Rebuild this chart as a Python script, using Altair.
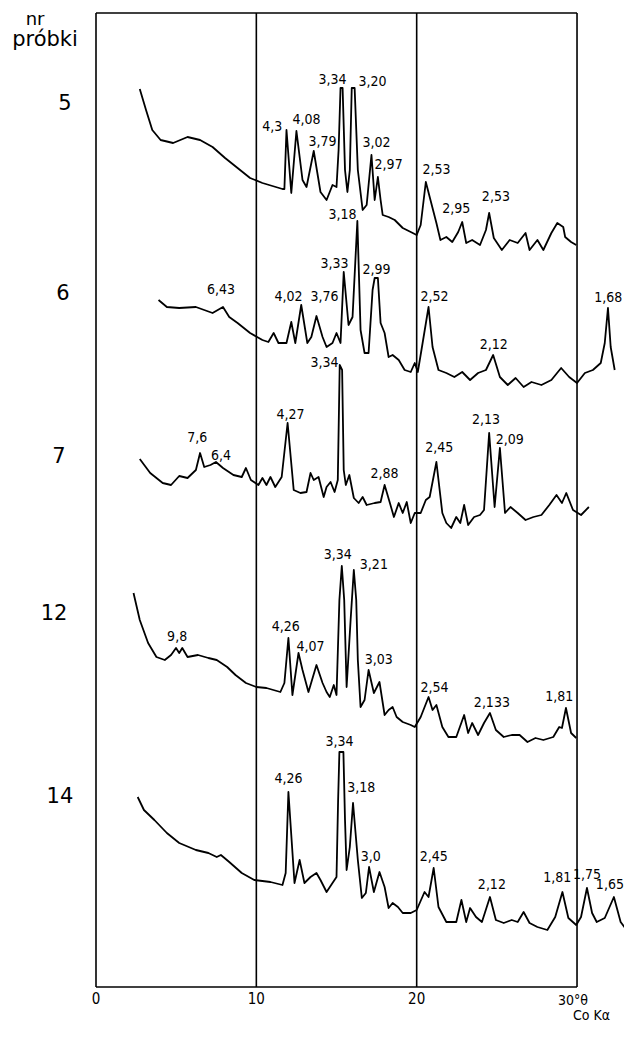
import altair as alt
import pandas as pd

# ---- data: 2-theta (deg, Co K-alpha) and trace height (arbitrary units, offset per sample) ----
samples = ["5", "6", "7", "12", "14"]

t5 = [2.73, 3.12, 3.51, 4.03, 4.81, 5.71, 6.49, 7.27, 8.05, 8.83, 9.61, 10.38, 11.63, 11.75, 11.88, 12.18, 12.5,
      12.88, 13.13, 13.58, 14.0, 14.38, 14.75, 15.0, 15.13, 15.25, 15.38, 15.53, 15.68, 15.83, 15.95, 16.13, 16.33,
      16.63, 16.88, 17.18, 17.38, 17.58, 17.75, 17.88, 18.25, 18.63, 19.13, 19.63, 20.0, 20.25, 20.57, 20.86, 21.23,
      21.48, 21.85, 22.22, 22.59, 22.84, 23.09, 23.46, 23.95, 24.32, 24.52, 24.81, 25.31, 25.8, 26.3, 26.79, 27.04,
      27.53, 27.9, 28.4, 28.77, 29.14, 29.26, 29.63, 29.95]
v5 = [898, 877, 857, 847, 844, 850, 847, 840, 829, 819, 809, 804, 798, 798, 857, 794, 856, 807, 800, 836, 795, 787,
      802, 800, 837, 899, 899, 817, 795, 817, 899, 899, 817, 777, 782, 832, 787, 810, 787, 772, 770, 767, 759, 755,
      752, 762, 805, 787, 764, 747, 750, 745, 755, 765, 744, 747, 742, 757, 774, 749, 737, 747, 744, 754, 737, 747,
      737, 754, 764, 760, 750, 745, 742]

t6 = [3.9, 4.42, 5.19, 6.23, 7.27, 7.92, 8.31, 8.83, 9.61, 10.38, 10.75, 11.08, 11.38, 11.88, 12.18, 12.43, 12.8,
      13.18, 13.43, 13.75, 14.13, 14.38, 14.75, 15.0, 15.25, 15.45, 15.75, 16.0, 16.3, 16.5, 16.75, 17.0, 17.25,
      17.38, 17.58, 17.75, 18.0, 18.25, 18.5, 18.88, 19.25, 19.63, 19.88, 20.07, 20.37, 20.74, 20.99, 21.36, 21.85,
      22.35, 22.84, 23.33, 23.83, 24.32, 24.77, 25.19, 25.68, 26.17, 26.67, 27.16, 27.78, 28.4, 29.01, 29.51, 30.0,
      30.49, 30.99, 31.48, 31.73, 31.93, 32.1, 32.35]
v6 = [687, 680, 679, 680, 674, 680, 670, 664, 654, 647, 645, 654, 644, 644, 665, 644, 682, 644, 650, 671, 650, 640,
      644, 654, 644, 715, 662, 670, 766, 657, 634, 634, 697, 709, 709, 664, 654, 630, 632, 627, 617, 615, 624, 615,
      644, 680, 640, 617, 614, 610, 615, 607, 614, 617, 632, 610, 602, 609, 600, 605, 602, 607, 619, 610, 604, 614,
      617, 624, 644, 679, 640, 617]

t7 = [2.73, 3.38, 4.16, 4.68, 5.19, 5.71, 6.23, 6.49, 6.75, 7.14, 7.48, 7.92, 8.57, 9.09, 9.35, 9.66, 10.13, 10.38,
      10.63, 10.88, 11.18, 11.58, 11.95, 12.33, 12.75, 13.13, 13.38, 13.58, 13.88, 14.2, 14.38, 14.63, 14.88, 15.08,
      15.2, 15.35, 15.45, 15.58, 15.8, 16.08, 16.38, 16.63, 16.88, 17.38, 17.75, 18.0, 18.33, 18.58, 18.88, 19.13,
      19.38, 19.63, 19.88, 20.25, 20.57, 20.81, 21.23, 21.6, 21.85, 22.15, 22.47, 22.72, 22.96, 23.21, 23.58, 23.95,
      24.2, 24.52, 24.86, 25.19, 25.51, 25.85, 26.3, 26.79, 27.28, 27.78, 28.27, 28.72, 29.06, 29.33, 29.75, 30.25,
      30.74]
v7 = [528, 514, 504, 502, 511, 509, 517, 534, 520, 522, 525, 519, 512, 510, 519, 507, 502, 509, 502, 510, 500, 510,
      564, 497, 494, 495, 514, 507, 510, 490, 500, 505, 495, 507, 622, 617, 517, 502, 512, 489, 484, 490, 482, 484,
      485, 502, 484, 470, 484, 474, 485, 464, 474, 474, 487, 490, 525, 474, 464, 459, 470, 464, 482, 462, 470, 472,
      477, 554, 480, 539, 474, 480, 474, 467, 470, 472, 482, 492, 484, 494, 477, 472, 480]

t12 = [2.34, 2.73, 3.25, 3.77, 4.29, 4.68, 4.99, 5.19, 5.38, 5.71, 6.36, 7.01, 7.53, 8.18, 8.7, 9.35, 10.0, 10.63,
       11.5, 11.75, 12.0, 12.25, 12.63, 12.88, 13.25, 13.75, 14.13, 14.38, 14.58, 14.83, 15.0, 15.18, 15.33, 15.48,
       15.63, 15.88, 16.08, 16.23, 16.33, 16.5, 16.75, 17.0, 17.33, 17.68, 18.0, 18.25, 18.5, 18.75, 19.13, 19.63,
       19.88, 20.25, 20.74, 20.99, 21.23, 21.6, 21.98, 22.47, 22.96, 23.21, 23.46, 23.83, 24.2, 24.57, 24.94, 25.43,
       25.93, 26.42, 26.91, 27.41, 27.9, 28.52, 28.89, 29.06, 29.31, 29.63, 29.95]
v12 = [394, 367, 344, 330, 327, 332, 339, 334, 339, 330, 332, 329, 327, 320, 312, 304, 300, 299, 295, 304, 349, 292,
       334, 317, 295, 322, 304, 295, 290, 302, 292, 387, 421, 387, 300, 367, 417, 387, 327, 280, 287, 317, 294, 305,
       272, 277, 280, 270, 265, 262, 260, 270, 290, 277, 282, 260, 250, 250, 272, 254, 264, 252, 264, 274, 257, 250,
       252, 252, 245, 249, 247, 250, 260, 259, 279, 254, 249]

t14 = [2.6, 2.99, 3.64, 4.42, 5.19, 6.23, 7.01, 7.53, 7.79, 8.31, 9.09, 9.87, 10.88, 11.63, 11.83, 12.0, 12.2, 12.38,
       12.7, 13.0, 13.38, 13.75, 14.0, 14.38, 14.75, 15.0, 15.1, 15.18, 15.43, 15.53, 15.63, 15.83, 16.03, 16.33,
       16.58, 16.83, 17.03, 17.33, 17.68, 18.0, 18.25, 18.5, 18.83, 19.13, 19.63, 20.0, 20.49, 20.74, 21.06, 21.36,
       21.85, 22.47, 22.79, 23.09, 23.33, 23.7, 24.07, 24.57, 24.94, 25.43, 25.93, 26.3, 26.67, 27.04, 27.53, 28.15,
       28.64, 29.09, 29.46, 29.95, 30.25, 30.62, 30.94, 31.23, 31.73, 32.3, 32.72, 33.09]
v14 = [190, 177, 167, 154, 144, 137, 134, 130, 132, 125, 114, 107, 105, 102, 114, 195, 147, 104, 127, 104, 110, 114,
       107, 95, 104, 110, 187, 235, 235, 167, 117, 140, 184, 127, 89, 94, 120, 95, 115, 100, 79, 84, 80, 74, 74, 77,
       95, 90, 119, 80, 65, 65, 87, 65, 79, 70, 65, 90, 67, 64, 67, 65, 75, 64, 60, 57, 70, 95, 69, 62, 70, 99, 74,
       65, 69, 90, 65, 57]

# peak labels (d-spacings)
lab_text = ["4,3", "4,08", "3,79", "3,34", "3,20", "3,02", "2,97", "2,53", "2,95", "2,53",
            "3,18", "3,33", "2,99", "6,43", "4,02", "3,76", "2,52", "2,12", "1,68",
            "3,34", "4,27", "7,6", "6,4", "2,88", "2,45", "2,13", "2,09",
            "3,34", "3,21", "9,8", "4,26", "4,07", "3,03", "2,54", "2,133", "1,81",
            "3,34", "4,26", "3,18", "3,0", "2,45", "2,12", "1,81", "1,75", "1,65"]
lab_theta = [11.0, 13.13, 14.13, 14.75, 17.25, 17.5, 18.25, 21.23, 22.47, 24.94,
             15.38, 14.88, 17.5, 7.79, 12.0, 14.25, 21.11, 24.81, 31.95,
             14.25, 12.13, 6.31, 7.79, 18.0, 21.41, 24.32, 25.8,
             15.08, 17.33, 5.06, 11.83, 13.38, 17.63, 21.11, 24.69, 28.89,
             15.18, 12.0, 16.55, 17.13, 21.06, 24.69, 28.77, 30.62, 32.05]
lab_v = [860, 867, 845, 907, 905, 844, 822, 817, 778, 790,
         772, 723, 717, 697, 690, 690, 690, 642, 689,
         624, 572, 549, 531, 513, 539, 567, 547,
         432, 422, 350, 360, 340, 327, 299, 284, 290,
         245, 208, 199, 130, 130, 102, 109, 112, 102]

# heading and sample-number labels at the left
head_text = ["nr"]
head_theta = [-3.80]
head_v = [962]
side_text = ["próbki", "5", "6", "7", "12", "14"]
side_theta = [-3.18, -1.93, -2.06, -2.31, -2.62, -2.25]
side_v = [941, 877, 687, 524, 367, 184]

# x tick labels
tick_text = ["0", "10", "20"]
tick_theta = [0, 10, 20]
grid_theta = [0, 10, 20, 30]
frame_v = [0, 974]

XMAX = 32.93
xs = alt.Scale(domain=[0, XMAX], nice=False, zero=False)
ys = alt.Scale(domain=[0, 975], nice=False, zero=False)

rows = []
for s, (ts, vs) in zip(samples, [(t5, v5), (t6, v6), (t7, v7), (t12, v12), (t14, v14)]):
    for i, (t, v) in enumerate(zip(ts, vs)):
        rows.append({"sample": s, "theta": t, "v": v, "i": i})
traces = pd.DataFrame(rows)

lines = alt.Chart(traces).mark_line(color="black", strokeWidth=1.8, clip=True, strokeJoin="round").encode(
    x=alt.X("theta:Q", scale=xs, axis=None),
    y=alt.Y("v:Q", scale=ys, axis=None),
    detail="sample:N",
    order="i:Q",
)

vgrid = alt.Chart(pd.DataFrame({"theta": grid_theta, "a": [frame_v[0]] * 4, "b": [frame_v[1]] * 4})).mark_rule(
    color="black", strokeWidth=1.6).encode(
    x=alt.X("theta:Q", scale=xs, axis=None),
    y=alt.Y("a:Q", scale=ys, axis=None),
    y2="b:Q",
)

hframe = alt.Chart(pd.DataFrame({"v": frame_v, "a": [0, 0], "b": [30, 30]})).mark_rule(
    color="black", strokeWidth=1.6).encode(
    y=alt.Y("v:Q", scale=ys, axis=None),
    x=alt.X("a:Q", scale=xs, axis=None),
    x2="b:Q",
)

label_font = "DejaVu Sans Condensed, Liberation Sans Narrow, Roboto, sans-serif"

peak_labels = alt.Chart(pd.DataFrame({"t": lab_text, "theta": lab_theta, "v": lab_v})).mark_text(
    font=label_font, fontSize=14, color="black", align="center", baseline="middle").encode(
    x=alt.X("theta:Q", scale=xs, axis=None),
    y=alt.Y("v:Q", scale=ys, axis=None),
    text="t:N",
)

head_label = alt.Chart(pd.DataFrame({"t": head_text, "theta": head_theta, "v": head_v})).mark_text(
    font="DejaVu Sans, sans-serif", fontSize=18, color="black", align="center", baseline="alphabetic").encode(
    x=alt.X("theta:Q", scale=xs, axis=None),
    y=alt.Y("v:Q", scale=ys, axis=None),
    text="t:N",
)

side_labels = alt.Chart(pd.DataFrame({"t": side_text, "theta": side_theta, "v": side_v})).mark_text(
    font="DejaVu Sans, sans-serif", fontSize=21, color="black", align="center", baseline="alphabetic").encode(
    x=alt.X("theta:Q", scale=xs, axis=None),
    y=alt.Y("v:Q", scale=ys, axis=None),
    text="t:N",
)

tick_labels = alt.Chart(pd.DataFrame({"t": tick_text, "theta": tick_theta, "v": [-12] * 3})).mark_text(
    font=label_font, fontSize=15, color="black", align="center", baseline="middle").encode(
    x=alt.X("theta:Q", scale=xs, axis=None),
    y=alt.Y("v:Q", scale=ys, axis=None),
    text="t:N",
)

unit_labels = alt.Chart(pd.DataFrame({"t": ["30°θ", "Co Kα"], "theta": [28.81, 29.75], "v": [-14, -29]})).mark_text(
    font=label_font, fontSize=14, color="black", align="left", baseline="middle").encode(
    x=alt.X("theta:Q", scale=xs, axis=None),
    y=alt.Y("v:Q", scale=ys, axis=None),
    text="t:N",
)

chart = alt.layer(vgrid, hframe, lines, peak_labels, head_label, side_labels, tick_labels, unit_labels).properties(
    width=528,
    height=975,
    padding={"left": 88, "top": 4, "right": 0, "bottom": 38},
    autosize=alt.AutoSizeParams(type="none"),
    background="white",
).configure_view(strokeWidth=0)

chart.save("out.html", embed_options={"renderer": "svg", "actions": False})
